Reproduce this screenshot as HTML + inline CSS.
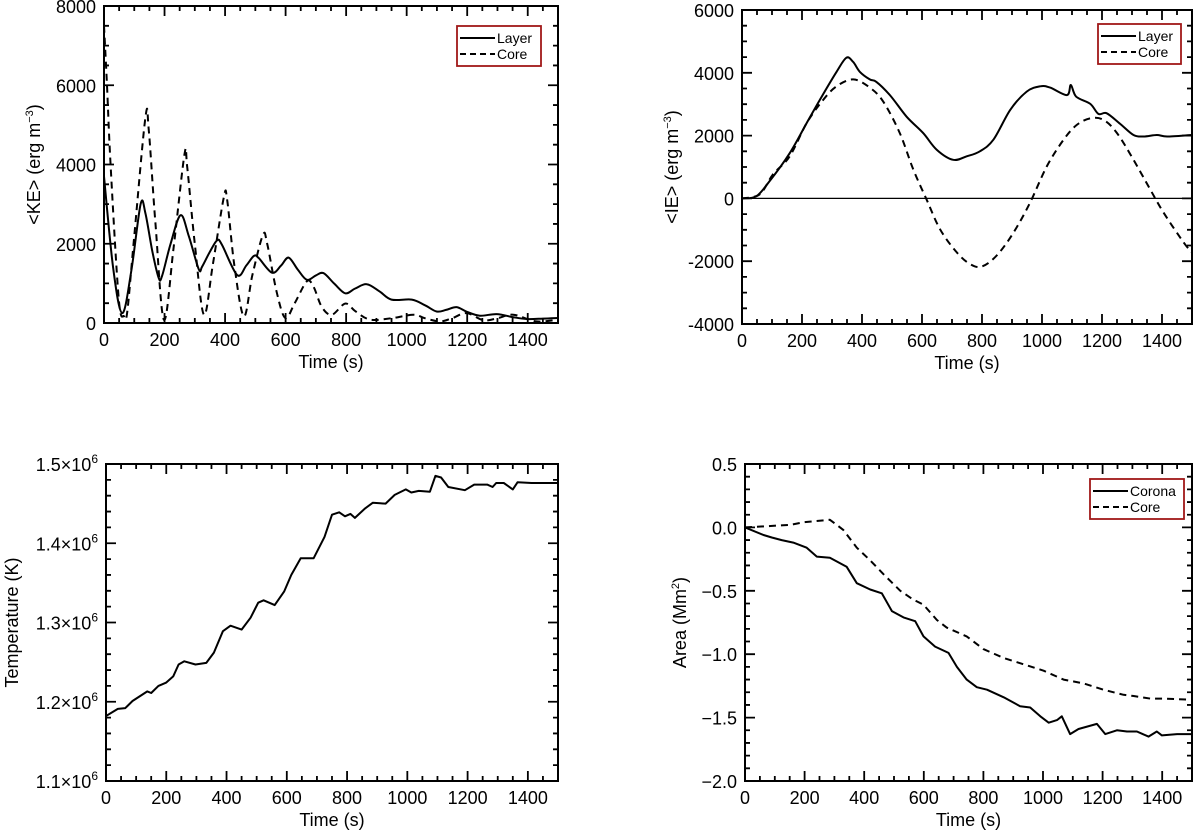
<!DOCTYPE html>
<html><head><meta charset="utf-8">
<style>
html,body{margin:0;padding:0;background:#fff;}
svg{display:block;font-family:"Liberation Sans",sans-serif;}
</style></head>
<body>
<svg id="fig" width="1200" height="833" viewBox="0 0 1200 833"></svg>
<script>
// ---- Panel 1: kinetic energy ----
const keLayerT=[0,30,60,90,121,137,160,181,192,220,253,280,313,324,350,374,390,440,470,495,511,555,585,610,640,670,700,725,760,797,830,868,910,950,1017,1060,1099,1130,1165,1200,1242,1297,1350,1396,1450,1500];
const keLayerV=[3700,1400,250,1300,3000,2760,1800,1130,1190,2000,2720,2200,1360,1420,1800,2090,1970,1210,1450,1690,1640,1270,1450,1650,1350,1090,1200,1260,1000,750,870,980,800,590,590,450,290,330,400,280,185,225,150,100,110,125];
const keCoreT=[0,10,22,49,66,77,100,137,148,170,198,230,266,275,300,330,360,396,407,430,462,490,525,539,570,599,630,670,692,720,753,797,830,879,950,1022,1060,1110,1150,1198,1253,1300,1352,1429,1500];
const keCoreV=[7500,6000,3940,590,170,290,2200,5200,4860,2500,80,1900,4260,3940,2000,210,1500,3180,3100,1500,170,1200,2220,2010,800,125,500,1050,920,400,210,490,300,85,120,210,120,40,120,250,70,120,210,40,85];
// ---- Panel 2: internal energy ----
const ieLayerT=[0,48,92,159,215,259,315,348,371,393,426,448,493,549,604,649,704,749,793,838,894,949,994,1027,1083,1096,1114,1161,1188,1216,1261,1305,1339,1383,1417,1500];
const ieLayerV=[0,70,550,1440,2390,3130,4030,4480,4340,4030,3790,3710,3290,2600,2080,1550,1230,1340,1500,1870,2820,3400,3570,3530,3290,3610,3240,3010,2690,2710,2370,2020,1970,2020,1970,2020];
const ieCoreT=[0,59,103,159,215,270,315,371,426,471,526,571,615,660,716,760,799,849,905,960,1016,1072,1116,1161,1205,1250,1305,1361,1405,1472,1500];
const ieCoreV=[0,130,760,1340,2390,3130,3570,3790,3530,3080,2080,920,-30,-980,-1720,-2090,-2170,-1820,-1090,-140,1020,1870,2340,2550,2500,2080,1230,280,-450,-1400,-1720];
// ---- Panel 3: temperature (units of 1e6 K) ----
const tempT=[0,39,64,88,137,150,174,199,223,241,260,297,333,358,388,413,450,480,505,523,560,591,615,646,689,725,750,774,793,811,826,860,885,928,958,995,1013,1038,1075,1093,1112,1136,1191,1222,1265,1283,1295,1320,1350,1366,1412,1500];
const tempV=[1.182,1.191,1.192,1.201,1.213,1.211,1.220,1.224,1.232,1.247,1.251,1.247,1.249,1.262,1.289,1.296,1.291,1.306,1.325,1.328,1.322,1.339,1.360,1.381,1.381,1.408,1.436,1.439,1.434,1.437,1.432,1.444,1.451,1.450,1.461,1.468,1.464,1.466,1.465,1.485,1.483,1.471,1.467,1.474,1.474,1.471,1.476,1.476,1.468,1.477,1.476,1.476];
// ---- Panel 4: area ----
const areaCoronaT=[0,62,90,123,162,207,241,285,341,375,420,459,493,532,571,599,638,683,711,744,778,812,868,923,957,991,1019,1047,1063,1091,1119,1181,1209,1248,1282,1315,1354,1382,1399,1450,1500];
const areaCoronaV=[0,-0.06,-0.08,-0.10,-0.12,-0.16,-0.23,-0.24,-0.31,-0.44,-0.49,-0.52,-0.66,-0.71,-0.74,-0.86,-0.94,-0.99,-1.10,-1.20,-1.26,-1.28,-1.34,-1.41,-1.42,-1.49,-1.54,-1.52,-1.49,-1.63,-1.59,-1.55,-1.63,-1.60,-1.61,-1.61,-1.65,-1.61,-1.64,-1.63,-1.63];
const areaCoreT=[0,151,196,285,308,330,375,420,465,521,565,599,644,677,744,800,868,935,1002,1069,1136,1203,1270,1304,1360,1405,1500];
const areaCoreV=[0,0.02,0.04,0.06,0.02,-0.02,-0.16,-0.26,-0.37,-0.50,-0.57,-0.61,-0.73,-0.79,-0.86,-0.96,-1.03,-1.08,-1.13,-1.20,-1.23,-1.28,-1.32,-1.33,-1.35,-1.35,-1.36];

const xTicks=[0,200,400,600,800,1000,1200,1400];
const keTicks=[0,2000,4000,6000,8000];
const ieTicks=[-4000,-2000,0,2000,4000,6000];
const tempTicks=[1.1,1.2,1.3,1.4,1.5];
const areaTicks=[-2.0,-1.5,-1.0,-0.5,0.0,0.5];

const NS="http://www.w3.org/2000/svg";
const svg=document.getElementById('fig');
function mk(tag,attrs,parent){const e=document.createElementNS(NS,tag);for(const k in attrs)e.setAttribute(k,attrs[k]);(parent||svg).appendChild(e);return e;}

function smoothPath(pts){
  let d=`M${pts[0][0]},${pts[0][1]}`;
  for(let i=0;i<pts.length-1;i++){
    const p0=pts[Math.max(0,i-1)],p1=pts[i],p2=pts[i+1],p3=pts[Math.min(pts.length-1,i+2)];
    const c1=[p1[0]+(p2[0]-p0[0])/6,p1[1]+(p2[1]-p0[1])/6];
    const c2=[p2[0]-(p3[0]-p1[0])/6,p2[1]-(p3[1]-p1[1])/6];
    d+=` C${c1[0].toFixed(1)},${c1[1].toFixed(1)} ${c2[0].toFixed(1)},${c2[1].toFixed(1)} ${p2[0].toFixed(1)},${p2[1].toFixed(1)}`;
  }
  return d;
}
function linePath(pts){return 'M'+pts.map(p=>p[0].toFixed(1)+','+p[1].toFixed(1)).join(' L');}

function panel(cfg){
  const g=mk('g',{});
  
  
  const {x0,x1,y0,y1,ymin,ymax}=cfg;
  const sx=t=>x0+(t-0)/1500*(x1-x0);
  const sy=v=>y1-(v-ymin)/(ymax-ymin)*(y1-y0);
  const clip='clip-'+cfg.name;
  const cp=mk('clipPath',{id:clip},g);mk('rect',{x:x0,y:y0,width:x1-x0,height:y1-y0},cp);
  for(let t=0;t<=1500;t+=50){
    const major=t%200===0, L=major?10:5;
    const tk=mk('path',{d:`M${sx(t)},${y1} v${-L} M${sx(t)},${y0} v${L}`,stroke:'#000','stroke-width':1.8},g);
    
    
  }
  for(let v=ymin;v<=ymax+1e-9;v+=cfg.minor){
    const rel=Math.round((v-ymin)/cfg.minor);
    const major=rel%cfg.nMinor===0, L=major?10:5;
    const tk=mk('path',{d:`M${x0},${sy(v)} h${L} M${x1},${sy(v)} h${-L}`,stroke:'#000','stroke-width':1.8},g);
    
    
  }
  xTicks.forEach(t=>{
    const tx=mk('text',{x:sx(t),y:y1+23,'font-size':18,'text-anchor':'middle'},g);tx.textContent=t;
    
    
  });
  cfg.yTicks.forEach(v=>{
    const tx=mk('text',{x:x0-8,y:sy(v)+7,'font-size':18,'text-anchor':'end'},g);
    tx.innerHTML=cfg.fmt(v);
    
    
  });
  const xt=mk('text',{x:(x0+x1)/2,y:y1+45,'font-size':18,'text-anchor':'middle'},g);xt.textContent='Time (s)';
  
  
  const yt=mk('text',{x:0,y:0,'font-size':18,'text-anchor':'middle',transform:`translate(${cfg.ytx},${(y0+y1)/2}) rotate(-90)`},g);
  yt.innerHTML=cfg.ytitle;
  
  
  if(cfg.zero){const z=mk('line',{x1:x0,x2:x1,y1:sy(0),y2:sy(0),stroke:'#000','stroke-width':1.2},g);
    }
  cfg.series.forEach(s=>{
    const pts=s.t.map((t,i)=>[sx(t),sy(s.v[i])]);
    const p=mk('path',{d:cfg.smooth?smoothPath(pts):linePath(pts),fill:'none',stroke:'#000','stroke-width':2,'stroke-dasharray':s.dash?'7,5':'none','clip-path':`url(#${clip})`,'stroke-linejoin':'round'},g);
    
    
  });
  const fr=mk('rect',{x:x0,y:y0,width:x1-x0,height:y1-y0,fill:'none',stroke:'#000','stroke-width':2},g);
  
  
  if(cfg.legend){
    const L=cfg.legend;
    const lg=mk('g',{},g);
    
    
    mk('rect',{x:L.x,y:L.y,width:L.w,height:40,fill:'#fff',stroke:'#a01818','stroke-width':1.8},lg);
    L.items.forEach((it,i)=>{
      const yy=L.y+12+i*16;
      mk('line',{x1:L.x+3,x2:L.x+38,y1:yy,y2:yy,stroke:'#000','stroke-width':2,'stroke-dasharray':it.dash?'6,4':'none'},lg);
      const tx=mk('text',{x:L.x+40,y:yy+5,'font-size':14},lg);tx.textContent=it.label;
      
      
    });
  }
}
const sup=(m,e)=>`${m}×10<tspan dy="-8" font-size="12">${e}</tspan>`;
panel({name:'ke-panel',x0:104,x1:558,y0:6,y1:323,ymin:0,ymax:8000,minor:500,nMinor:4,yTicks:keTicks,fmt:v=>v,smooth:true,ytx:40,
  ytitle:'&lt;KE&gt; (erg m<tspan dy="-7" font-size="11">−3</tspan><tspan dy="7">)</tspan>',
  series:[{name:'ke-layer-line',t:keLayerT,v:keLayerV},{name:'ke-core-line',t:keCoreT,v:keCoreV,dash:true}],
  legend:{x:457,y:26,w:84,items:[{label:'Layer'},{label:'Core',dash:true}]}});
panel({name:'ie-panel',x0:742,x1:1192,y0:10,y1:324,ymin:-4000,ymax:6000,minor:500,nMinor:4,yTicks:ieTicks,fmt:v=>v,smooth:true,zero:true,ytx:678,
  ytitle:'&lt;IE&gt; (erg m<tspan dy="-7" font-size="11">−3</tspan><tspan dy="7">)</tspan>',
  series:[{name:'ie-layer-line',t:ieLayerT,v:ieLayerV},{name:'ie-core-line',t:ieCoreT,v:ieCoreV,dash:true}],
  legend:{x:1098,y:24,w:83,items:[{label:'Layer'},{label:'Core',dash:true}]}});
panel({name:'temperature-panel',x0:106,x1:558,y0:464,y1:781,ymin:1.1,ymax:1.5,minor:0.02,nMinor:5,yTicks:tempTicks,fmt:v=>sup(v.toFixed(1),6),smooth:false,ytx:18,
  ytitle:'Temperature (K)',
  series:[{name:'temperature-line',t:tempT,v:tempV}]});
panel({name:'area-panel',x0:745,x1:1192,y0:464,y1:781,ymin:-2,ymax:0.5,minor:0.1,nMinor:5,yTicks:areaTicks,fmt:v=>(v<0?'−':'')+Math.abs(v).toFixed(1),smooth:false,ytx:686,
  ytitle:'Area (Mm<tspan dy="-7" font-size="11">2</tspan><tspan dy="7">)</tspan>',
  series:[{name:'area-corona-line',t:areaCoronaT,v:areaCoronaV},{name:'area-core-line',t:areaCoreT,v:areaCoreV,dash:true}],
  legend:{x:1090,y:479,w:94,items:[{label:'Corona'},{label:'Core',dash:true}]}});
</script>
</body></html>
